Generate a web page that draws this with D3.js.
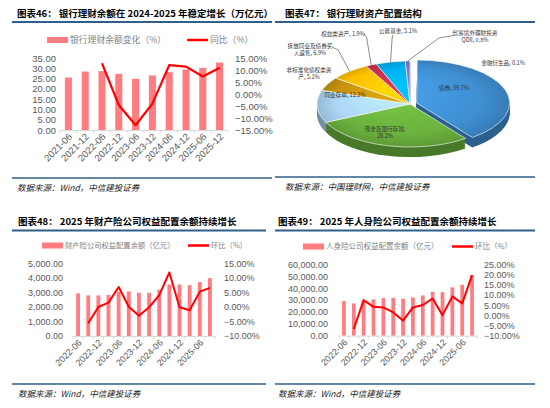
<!DOCTYPE html>
<html>
<head>
<meta charset="utf-8">
<script src="https://cdn.jsdelivr.net/npm/d3@7"></script>
<style>
  body { margin: 0; background: #fff; }
  text { font-family: "Liberation Sans", Arial, sans-serif; }
  .cjk { font-family: "Noto Sans CJK SC", sans-serif; }
</style>
</head>
<body>
<svg id="chart" width="550" height="408"></svg>
<script>
// ---- chart 46: bank wealth management balance ----
var wmDates = ["2021-06", "2021-12", "2022-06", "2022-12", "2023-06", "2023-12", "2024-06", "2024-12", "2025-06", "2025-12"];
var wmBalance = [25.5, 28.4, 28.6, 27.3, 24.9, 26.5, 28.1, 29.4, 30.2, 32.8];
var wmYoy = [null, null, 12.8, -4.6, -13.0, -4.0, 12.0, 11.4, 7.3, 10.9];

// ---- chart 47: asset allocation of bank wealth products ----
var pieNames = ["金融衍生品", "债券", "现金及银行存款", "同业存单", "非标准化债权类资产", "拆放同业及债券买入返售", "权益类资产", "公募基金", "代客境外理财投资QDII"];
var pieShares = [0.1, 39.7, 28.2, 12.2, 5.1, 6.9, 1.9, 5.1, 0.8];

// ---- charts 48 / 49: insurers' equity allocation ----
var insDates = ["2022-06", "2022-09", "2022-12", "2023-03", "2023-06", "2023-09", "2023-12", "2024-03", "2024-06", "2024-09", "2024-12", "2025-03", "2025-06", "2025-09"];
var pcBalance = [2940, 2800, 2800, 2830, 3050, 3070, 2980, 2980, 3190, 3550, 3550, 3510, 3720, 3990];
var pcQoq = [null, -5.6, 0.0, 1.5, 6.9, 0.1, -3.0, -0.1, 4.1, 11.9, -0.1, -1.1, 5.3, 6.6];
var lifeBalance = [29200, 27200, 29300, 30600, 31700, 32000, 31100, 32200, 33900, 37000, 36700, 40700, 42900, 51000];
var lifeQoq = [null, -6.7, 7.5, 4.2, 3.9, 1.5, -2.6, 3.9, 5.1, 8.3, 0.1, 9.3, 5.9, 19.8];

var svg = d3.select("#chart");
var BAR = "#ff7c80", LINE = "#ff0000", TICK = "#595959", RULE = "#2f5f8a";

// title, rules and source line of one panel
function panelFrame(p) {
  svg.append("text").attr("class", "cjk")
    .attr("x", p.tx).attr("y", p.ty).attr("dy", "0.35em")
    .attr("font-size", 9.5).attr("font-weight", "bold").attr("fill", "#000")
    .text(p.title);
  svg.append("line").attr("x1", p.lx0).attr("x2", p.lx1)
    .attr("y1", p.ly).attr("y2", p.ly)
    .attr("stroke", RULE).attr("stroke-width", 1.8);
  svg.append("line").attr("x1", p.lx0).attr("x2", p.lx1)
    .attr("y1", p.by).attr("y2", p.by)
    .attr("stroke", RULE).attr("stroke-width", 1.5);
  svg.append("text").attr("class", "cjk")
    .attr("x", p.tx).attr("y", p.by + 10).attr("dy", "0.35em")
    .attr("font-size", 8.5).attr("font-style", "italic").attr("fill", "#222")
    .text(p.source);
}

// bars on the left axis, line on the right axis
function comboChart(c) {
  var g = svg.append("g");

  var x = d3.scaleBand().domain(c.dates).range([c.x0, c.x1]).paddingInner(c.pad).paddingOuter(c.pad / 2);
  var yL = d3.scaleLinear().domain([0, c.leftMax]).range([c.yBot, c.yTop]);
  var yR = d3.scaleLinear().domain([c.rightMin, c.rightMax]).range([c.yBot, c.yTop]);

  // bars
  g.selectAll(".bar").data(c.bars).join("rect")
    .attr("x", (d, i) => x(c.dates[i]))
    .attr("y", d => yL(d))
    .attr("width", x.bandwidth())
    .attr("height", d => yL(0) - yL(d))
    .attr("fill", BAR);

  // x axis line with ticks between categories
  var step = (c.x1 - c.x0) / c.dates.length;
  g.append("line").attr("x1", c.x0).attr("x2", c.x1)
    .attr("y1", c.yBot + 0.5).attr("y2", c.yBot + 0.5)
    .attr("stroke", "#d9d9d9");
  g.selectAll(".xt").data(d3.range(c.dates.length + 1)).join("line")
    .attr("x1", i => c.x0 + i * step).attr("x2", i => c.x0 + i * step)
    .attr("y1", c.yBot).attr("y2", c.yBot + 3)
    .attr("stroke", "#d9d9d9");

  // left axis
  var left = d3.axisLeft(yL).tickValues(d3.range(0, c.leftMax + 1e-9, c.leftStep))
    .tickSize(0).tickPadding(c.padL).tickFormat(d3.format(c.leftFmt));
  var gl = g.append("g").attr("transform", `translate(${c.x0},0)`).call(left);
  gl.select(".domain").remove();
  gl.selectAll("text").attr("fill", TICK).attr("font-size", c.fs).attr("font-family", "Liberation Sans, Arial, sans-serif");

  // right axis
  var right = d3.axisRight(yR).tickValues(d3.range(c.rightMin, c.rightMax + 1e-9, c.rightStep))
    .tickSize(0).tickPadding(c.padR).tickFormat(d => d3.format(".2f")(d) + "%");
  var gr = g.append("g").attr("transform", `translate(${c.x1},0)`).call(right);
  gr.select(".domain").remove();
  gr.selectAll("text").attr("fill", TICK).attr("font-size", c.fs).attr("font-family", "Liberation Sans, Arial, sans-serif");

  // rotated date labels
  g.selectAll(".xl").data(c.dates.filter((d, i) => i % c.every === 0)).join("text")
    .attr("transform", d => `translate(${x(d) + x.bandwidth() / 2 + 2},${c.yBot + 5}) rotate(-45)`)
    .attr("text-anchor", "end").attr("dy", "0.35em")
    .attr("font-size", c.fs).attr("fill", TICK)
    .text(d => d);

  // line
  var pts = c.line.map((v, i) => [c.dates[i], v]);
  g.append("path").datum(pts)
    .attr("fill", "none").attr("stroke", LINE).attr("stroke-width", c.lw)
    .attr("stroke-linejoin", "round")
    .attr("d", d3.line().defined(d => d[1] !== null)
      .x(d => x(d[0]) + x.bandwidth() / 2).y(d => yR(d[1])));

  // legend
  var lg = c.legend;
  g.append("rect").attr("x", lg.x).attr("y", lg.y - 3).attr("width", 21).attr("height", 6).attr("fill", BAR);
  g.append("text").attr("class", "cjk").attr("x", lg.x + 23).attr("y", lg.y).attr("dy", "0.35em")
    .attr("font-size", lg.fs).attr("fill", "#7f7f7f").text(lg.bar);
  g.append("line").attr("x1", lg.x2).attr("x2", lg.x2 + 21).attr("y1", lg.y).attr("y2", lg.y)
    .attr("stroke", LINE).attr("stroke-width", 2.5);
  g.append("text").attr("class", "cjk").attr("x", lg.x2 + 23).attr("y", lg.y).attr("dy", "0.35em")
    .attr("font-size", lg.fs).attr("fill", "#7f7f7f").text(lg.line);
}

// tilted, extruded pie
function pieChart() {
  var cx = 410, cy = 104, rx = 93, ry = 43, depth = 10;
  var colors = ["#4472c4", "#3f8fd2", "#6cb33e", "#acd6f4", "#c8940e", "#ffc000", "#c8304f", "#00b0f0", "#8273c6"];
  var explode = [0, 7, 0, 0, 0, 0, 0, 0, 0];

  // label layout: anchor point, wrap index, leader line start
  var labelPos = [
    { x: 503, y: 63 },
    { x: 454, y: 88 },
    { x: 385, y: 129 },
    { x: 345, y: 95 },
    { x: 309, y: 70, wrap: 8 },
    { x: 310, y: 46, wrap: 8, lx: 332, ly: 47 },
    { x: 343, y: 34, lx: 364, ly: 34 },
    { x: 398, y: 31, lx: 393, ly: 35 },
    { x: 475, y: 33, lx: 456, ly: 35 }
  ];

  var arcs = d3.pie().sort(null).value(d => d)(pieShares);
  var arc = d3.arc().innerRadius(0).outerRadius(rx);
  var k = ry / rx;

  var defs = svg.append("defs");
  colors.forEach((col, i) => {
    var gr = defs.append("radialGradient").attr("id", "pg" + i)
      .attr("gradientUnits", "userSpaceOnUse").attr("cx", 0).attr("cy", 0).attr("r", rx)
      .attr("fx", -20).attr("fy", -30);
    gr.append("stop").attr("offset", "0%").attr("stop-color", d3.color(col).brighter(0.35));
    gr.append("stop").attr("offset", "75%").attr("stop-color", col);
    gr.append("stop").attr("offset", "100%").attr("stop-color", d3.color(col).darker(0.4));
  });

  function shift(a, i) {
    var m = (a.startAngle + a.endAngle) / 2;
    return [explode[i] * Math.sin(m), -explode[i] * Math.cos(m) * k];
  }

  var g = svg.append("g");
  // sides: stacked copies pushed down
  d3.range(depth, 0, -1).forEach(dz => {
    arcs.forEach((a, i) => {
      var s = shift(a, i);
      g.append("path")
        .attr("transform", `translate(${cx + s[0]},${cy + s[1] + dz}) scale(1,${k})`)
        .attr("d", arc(a))
        .attr("fill", d3.color(colors[i]).darker(1.1));
    });
  });
  // top faces
  arcs.forEach((a, i) => {
    var s = shift(a, i);
    g.append("path")
      .attr("transform", `translate(${cx + s[0]},${cy + s[1]}) scale(1,${k})`)
      .attr("d", arc(a))
      .attr("fill", `url(#pg${i})`)
      .attr("stroke", "#fff").attr("stroke-width", 0.6).attr("vector-effect", "non-scaling-stroke");
  });

  // labels and leaders
  arcs.forEach((a, i) => {
    var p = labelPos[i];
    var pct = pieShares[i].toFixed(1) + "%";
    var txt = pieNames[i] + ", " + pct;
    var lines = p.wrap ? [txt.slice(0, p.wrap), txt.slice(p.wrap)] : [txt];
    if (i === 8) lines = [pieNames[i].slice(0, 8), pieNames[i].slice(8) + ", " + pct];
    if (i === 2) lines = [pieNames[i] + ",", pct];
    var t = svg.append("text").attr("class", "cjk").attr("text-anchor", "middle")
      .attr("font-size", 5.6).attr("fill", "#333");
    lines.forEach((l, j) => {
      t.append("tspan").attr("x", p.x).attr("y", p.y + j * 7.5).attr("dy", "0.35em").text(l);
    });
    if (p.lx !== undefined) {
      var m = (a.startAngle + a.endAngle) / 2;
      var ex = cx + rx * Math.sin(m), ey = cy - ry * Math.cos(m);
      svg.append("polyline")
        .attr("points", [[p.lx, p.ly], [p.lx + (ex - p.lx) * 0.35, p.ly + 3], [ex, ey]].join(" "))
        .attr("fill", "none").attr("stroke", "#595959").attr("stroke-width", 0.7);
    }
  });
}

panelFrame({ tx: 17, ty: 13.5, lx0: 12, lx1: 272, ly: 22, by: 178,
  title: "图表46： 银行理财余额在 2024-2025 年稳定增长（万亿元）", source: "数据来源：Wind，中信建投证券" });
panelFrame({ tx: 285, ty: 13.5, lx0: 275, lx1: 535, ly: 22, by: 177,
  title: "图表47： 银行理财资产配置结构", source: "数据来源：中国理财网，中信建投证券" });
panelFrame({ tx: 18, ty: 221.5, lx0: 12, lx1: 266, ly: 230.5, by: 384,
  title: "图表48： 2025 年财产险公司权益配置余额持续增长", source: "数据来源：Wind，中信建投证券" });
panelFrame({ tx: 278, ty: 221.5, lx0: 275, lx1: 535, ly: 230.5, by: 384,
  title: "图表49： 2025 年人身险公司权益配置余额持续增长", source: "数据来源：Wind，中信建投证券" });

comboChart({ dates: wmDates, bars: wmBalance, line: wmYoy,
  x0: 60, x1: 228, yTop: 58, yBot: 130, pad: 0.58,
  leftMax: 35, leftStep: 5, leftFmt: ".2f", rightMin: -15, rightMax: 15, rightStep: 5,
  padL: 4, padR: 7, fs: 9.5, every: 1, lw: 2.2,
  legend: { x: 47, x2: 187, y: 40, fs: 8.8, bar: "银行理财余额变化（%）", line: "同比（%）" } });

comboChart({ dates: insDates, bars: pcBalance, line: pcQoq,
  x0: 73, x1: 215, yTop: 263.5, yBot: 336, pad: 0.62,
  leftMax: 5000, leftStep: 1000, leftFmt: ",.2f", rightMin: -10, rightMax: 15, rightStep: 5,
  padL: 10, padR: 9, fs: 9, every: 2, lw: 2,
  legend: { x: 42, x2: 188, y: 245.5, fs: 7.3, bar: "财产险公司权益配置余额（亿元）", line: "环比（%）" } });

comboChart({ dates: insDates, bars: lifeBalance, line: lifeQoq,
  x0: 339, x1: 477, yTop: 264.5, yBot: 335.7, pad: 0.62,
  leftMax: 60000, leftStep: 10000, leftFmt: ",.2f", rightMin: -10, rightMax: 25, rightStep: 5,
  padL: 11, padR: 7, fs: 9, every: 2, lw: 2,
  legend: { x: 303, x2: 452, y: 246.5, fs: 7.5, bar: "人身险公司权益配置余额（亿元）", line: "环比（%）" } });

pieChart();
</script>
</body>
</html>
